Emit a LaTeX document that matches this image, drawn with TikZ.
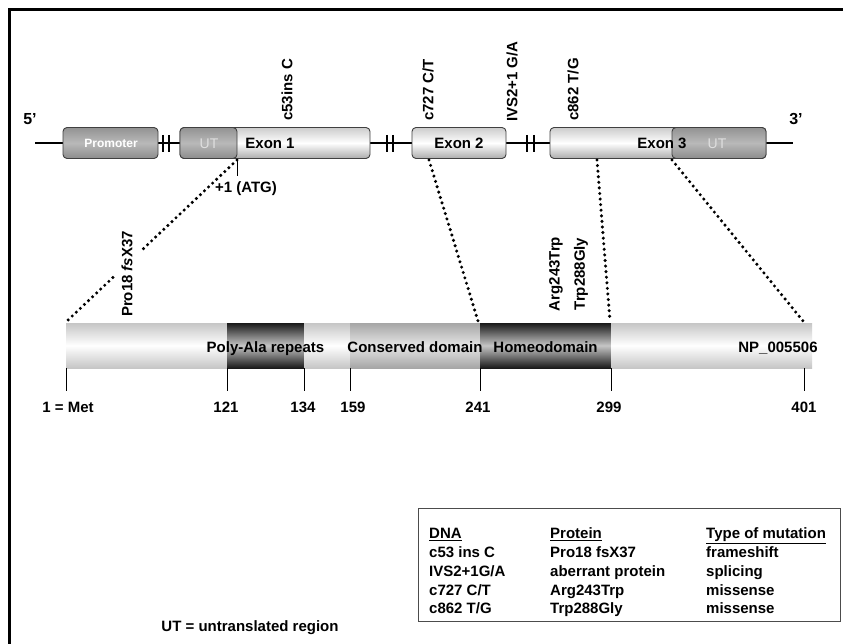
\documentclass[tikz,border=0pt]{standalone}
\usepackage{fontspec}
\setmainfont{Liberation Sans}
\usetikzlibrary{calc}
\begin{document}
\begin{tikzpicture}[x=1pt,y=-1pt,
  lbl/.style={font=\fontsize{15}{18}\selectfont\bfseries, inner sep=0pt},
  rlbl/.style={lbl, rotate=90, anchor=west},
  utlbl/.style={font=\fontsize{14}{17}\selectfont, inner sep=0pt, text=gray!25},
  tbl/.style={lbl, anchor=base west},
  genebox/.style={draw=black!75, line width=0.9pt, rounded corners=4pt, minimum height=31pt, inner sep=0pt},
  exonbox/.style={genebox, top color=gray!40, bottom color=gray!65, middle color=white},
  darkbox/.style={genebox, top color=gray!85, bottom color=gray!90, middle color=gray!55},
  dots/.style={line width=3.4pt, dash pattern=on 0pt off 5.6pt, line cap=round},
  tickm/.style={line width=1pt},
  lightseg/.style={top color=gray!45, bottom color=gray!45, middle color=white},
  darkseg/.style={top color=black!90, bottom color=black!90, middle color=gray!45},
  medseg/.style={top color=gray!70, bottom color=gray!70, middle color=gray!20},
]
\useasboundingbox (0,0) rectangle (843,644);
\fill[white] (0,0) rectangle (843,644);
% outer frame (left and top edges)
\draw[line width=3pt] (9.5,644) -- (9.5,9.5) -- (843,9.5);

% gene line
\coordinate (g0) at (35,143);
\coordinate (g1) at (793,143);
\draw[line width=2pt] (g0) -- (g1);

% gene boxes
\node[darkbox, minimum width=95pt] (prom) at (110.5,143) {};
\node[exonbox, minimum width=190pt] (exon1) at (275,143) {};
\node[darkbox, minimum width=57pt] (ut1) at (208.5,143) {};
\node[exonbox, minimum width=94pt] (exon2) at (459,143) {};
\node[exonbox, minimum width=216pt] (exon3) at (658,143) {};
\node[darkbox, minimum width=94pt] (ut3) at (719,143) {};

% break marks
\foreach \x in {163,169,387,393,527,534}
  \draw[line width=1.2pt] (\x,135) -- (\x,152);

% box texts
\node[lbl, font=\fontsize{12}{14}\selectfont\bfseries, text=white] (tprom) at (111,143) {Promoter};
\node[utlbl] (tut1) at (209,144) {UT};
\node[lbl] (te1) at (270,143) {Exon 1};
\node[lbl] (te2) at (459,143) {Exon 2};
\node[lbl] (te3) at (662,143) {Exon 3};
\node[utlbl] (tut3) at (717,144) {UT};

% ends
\node[lbl, font=\fontsize{16}{18}\selectfont\bfseries] (five) at (30,119) {5’};
\node[lbl, font=\fontsize{16}{18}\selectfont\bfseries] (three) at (796,119) {3’};

% DNA mutation labels
\node[rlbl] (m1) at (287,121) {c53ins C};
\node[rlbl] (m2) at (428,121) {c727 C/T};
\node[rlbl] (m3) at (512,122) {IVS2+1 G/A};
\node[rlbl] (m4) at (573,121) {c862 T/G};

% ATG tick
\coordinate (atg0) at (237,159);
\coordinate (atg1) at (237,176);
\draw[tickm] (atg0) -- (atg1);
\node[lbl] (atg) at (246,189) {+1 (ATG)};

% protein bar
\path[lightseg] (66,323) rectangle (227,368);
\path[darkseg] (227,323) rectangle (304,368);
\path[lightseg] (304,323) rectangle (350,368);
\path[medseg] (350,323) rectangle (480,368);
\path[darkseg] (480,323) rectangle (611,368);
\path[lightseg] (611,323) rectangle (812,368);

\node[lbl, anchor=base] (d1) at (265.5,352) {Poly-Ala repeats};
\node[lbl, anchor=base] (d2) at (415,352) {Conserved domain};
\node[lbl, anchor=base] (d3) at (545.5,352) {Homeodomain};
\node[lbl, anchor=base] (d4) at (778,352) {NP\_005506};

% position ticks
\foreach \x in {66,227,304,350,480,611,804}
  \draw[tickm] (\x,368) -- (\x,391);
\node[lbl, anchor=base] (p1) at (68,412) {1 = Met};
\node[lbl, anchor=base] (p121) at (226,412) {121};
\node[lbl, anchor=base] (p134) at (303,412) {134};
\node[lbl, anchor=base] (p159) at (353,412) {159};
\node[lbl, anchor=base] (p241) at (478,412) {241};
\node[lbl, anchor=base] (p299) at (609,412) {299};
\node[lbl, anchor=base] (p401) at (804,412) {401};

% dotted connectors
\coordinate (c1a) at (237,160);
\coordinate (c1b) at (67,321);
\coordinate (c2a) at (429,160);
\coordinate (c2b) at (478,321);
\coordinate (c3a) at (597,160);
\coordinate (c3b) at (610,321);
\coordinate (c4a) at (672,160);
\coordinate (c4b) at (803,321);
\draw[dots] (c1a) -- ($(c1a)!0.57!(c1b)$);
\draw[dots] ($(c1a)!0.73!(c1b)$) -- (c1b);
\draw[dots] (c2a) -- (c2b);
\draw[dots] (c3a) -- (c3b);
\draw[dots] (c4a) -- (c4b);

% protein mutation labels
\node[lbl, rotate=90] (pm1) at (127,274) {Pro18 \textit{fs}X37};
\node[lbl, rotate=90] (pm2) at (556,274) {Arg243Trp};
\node[lbl, rotate=90] (pm3) at (581,274) {Trp288Gly};

% table
\node[draw=black!70, line width=1pt, minimum width=422pt, minimum height=113pt, inner sep=0pt] (table) at (629,564.5) {};
\node[tbl] (h1) at (429,538.5) {\underline{DNA}};
\node[tbl] (h2) at (550,538.5) {\underline{Protein}};
\node[tbl] (h3) at (706,538.5) {\underline{Type of mutation}};
\node[tbl] (r11) at (429,557.5) {c53 ins C};
\node[tbl] (r12) at (550,557.5) {Pro18 fsX37};
\node[tbl] (r13) at (706,557.5) {frameshift};
\node[tbl] (r21) at (429,576.5) {IVS2+1G/A};
\node[tbl] (r22) at (550,576.5) {aberrant protein};
\node[tbl] (r23) at (706,576.5) {splicing};
\node[tbl] (r31) at (429,595.5) {c727 C/T};
\node[tbl] (r32) at (550,595.5) {Arg243Trp};
\node[tbl] (r33) at (706,595.5) {missense};
\node[tbl] (r41) at (429,613.5) {c862 T/G};
\node[tbl] (r42) at (550,613.5) {Trp288Gly};
\node[tbl] (r43) at (706,613.5) {missense};

\node[lbl] (legend) at (250,628) {UT = untranslated region};
\end{tikzpicture}
\end{document}
